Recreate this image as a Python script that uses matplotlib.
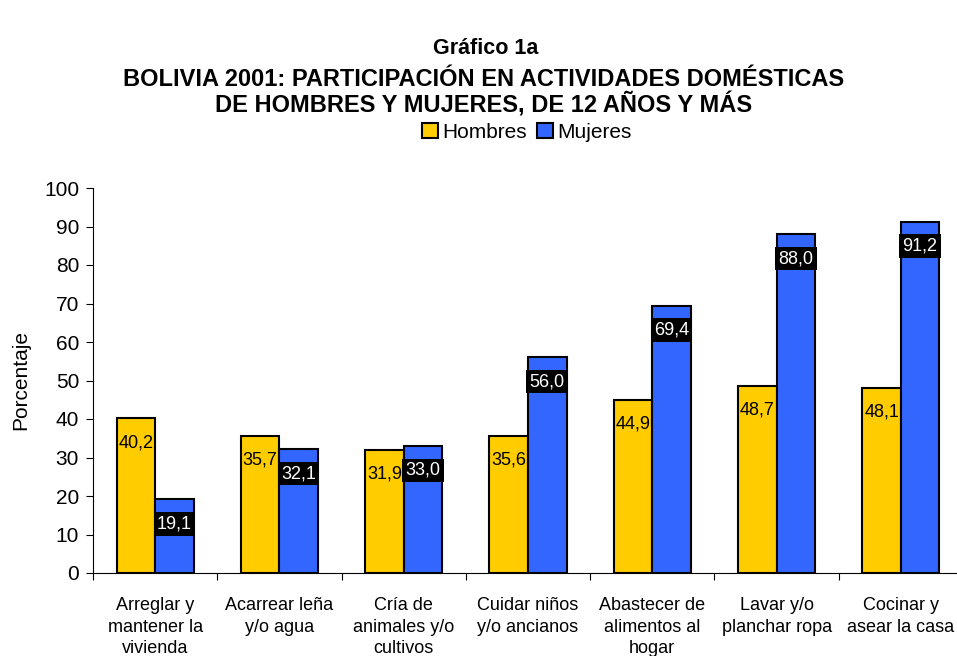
import matplotlib.pyplot as plt
import numpy as np

plt.rcParams['font.family'] = ['Liberation Sans', 'DejaVu Sans']

categorias = ["Arreglar y\nmantener la\nvivienda", "Acarrear leña\ny/o agua", "Cría de\nanimales y/o\ncultivos",
              "Cuidar niños\ny/o ancianos", "Abastecer de\nalimentos al\nhogar", "Lavar y/o\nplanchar ropa",
              "Cocinar y\nasear la casa"]
hombres = [40.2, 35.7, 31.9, 35.6, 44.9, 48.7, 48.1]
mujeres = [19.1, 32.1, 33.0, 56.0, 69.4, 88.0, 91.2]

fig = plt.figure(figsize=(9.57, 6.56), dpi=100)
ax = fig.add_axes([93/957, (656-573)/656, 870/957, 385/656])

x = np.arange(len(categorias)) + 0.5
w = 0.31
b1 = ax.bar(x - w/2, hombres, w, color="#FFCC00", edgecolor="black", linewidth=1.5, label="Hombres")
b2 = ax.bar(x + w/2, mujeres, w, color="#3366FF", edgecolor="black", linewidth=1.5, label="Mujeres")

def fmt(v):
    return ("%.1f" % v).replace(".", ",")

for xi, v in zip(x - w/2, hombres):
    ax.annotate(fmt(v), (xi, v), xytext=(0, -17.5), textcoords="offset points",
                ha="center", va="center", fontsize=13, color="black")
for xi, v in zip(x + w/2, mujeres):
    ax.annotate(fmt(v), (xi, v), xytext=(0, -17.5), textcoords="offset points",
                ha="center", va="center", fontsize=13, color="white",
                bbox=dict(boxstyle="square,pad=0.18", fc="black", ec="none"))

ax.set_xlim(0, 7)
ax.set_ylim(0, 100)
ax.set_yticks(range(0, 101, 10))
ax.set_xticks(range(0, 8))
ax.set_xticklabels([])
ax.set_xticks(x, minor=True)
ax.set_xticklabels(categorias, minor=True, fontsize=13, va="top", linespacing=1.38)
ax.tick_params(axis="x", which="minor", length=0, pad=17)
ax.tick_params(axis="x", which="major", length=5, direction="out")
ax.tick_params(axis="y", labelsize=15, length=5, direction="out", pad=5)
for s in ["top", "right"]:
    ax.spines[s].set_visible(False)
ax.set_ylabel("Porcentaje", fontsize=15)
ax.yaxis.set_label_coords(-0.072, 0.5)

fig.text(0.508, 1 - 48/656, "Gráfico 1a", ha="center", va="center", fontsize=15.5, fontweight="bold")
fig.text(0.505, 1 - 93/656, "BOLIVIA 2001: PARTICIPACIÓN EN ACTIVIDADES DOMÉSTICAS\nDE HOMBRES Y MUJERES, DE 12 AÑOS Y MÁS",
         ha="center", va="center", fontsize=17, fontweight="bold", linespacing=1.05)

fig.legend(handles=[b1, b2], loc="center", bbox_to_anchor=(527/957, 1 - 132/656), ncol=2, frameon=False,
           fontsize=15, handlelength=0.75, handleheight=0.75, handletextpad=0.2, columnspacing=0.5)

fig.savefig("out.png", dpi=100)
